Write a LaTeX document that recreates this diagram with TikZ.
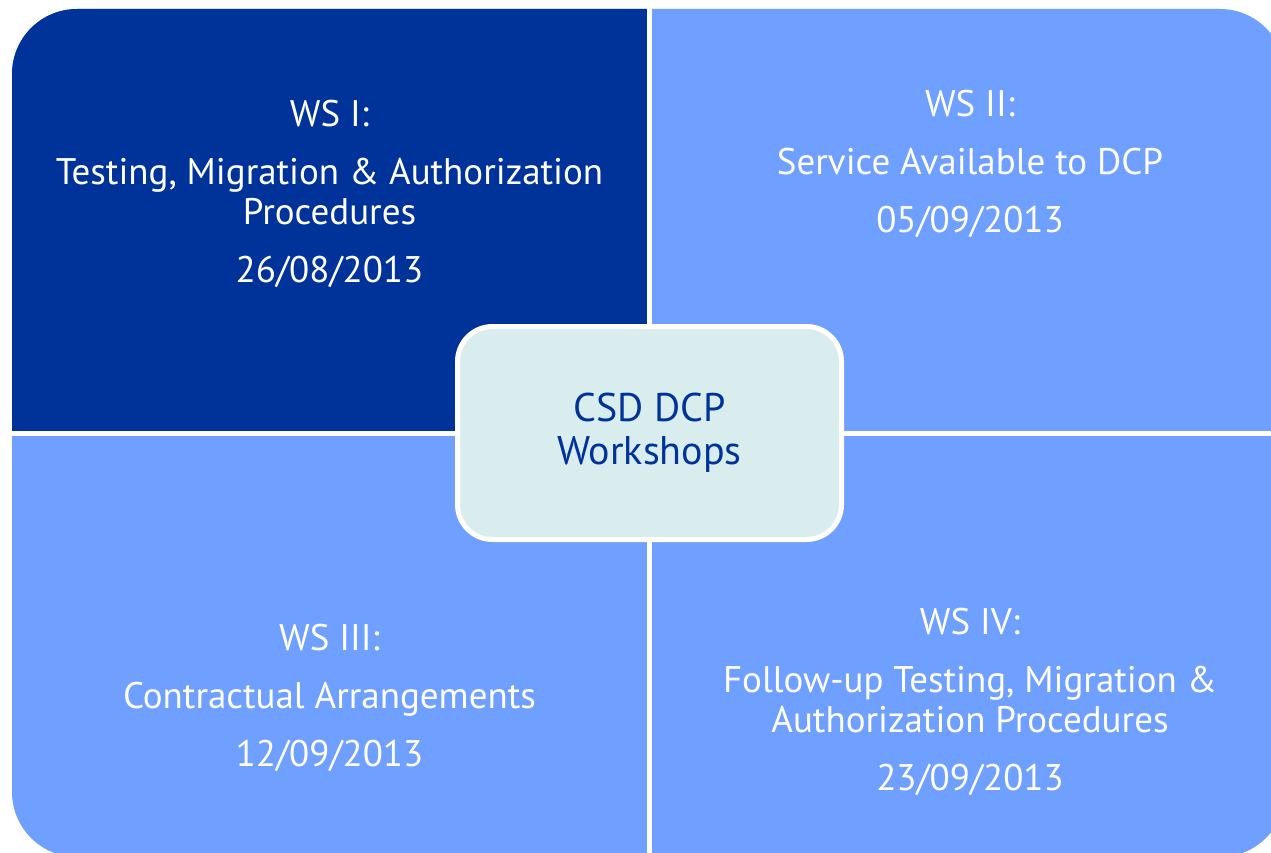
\documentclass[tikz,border=0pt]{standalone}
\usepackage{fontspec}
\setmainfont{PT Sans}
\usepackage[rgb]{xcolor}
\usepackage{tikz}
\definecolor{ws_dark}{HTML}{003399}
\definecolor{ws_light}{HTML}{6F9FFF}
\definecolor{ws_centre}{HTML}{DAEDEE}

\begin{document}
\begin{tikzpicture}[x=1pt, y=-1pt]
        \useasboundingbox (0,0) rectangle (1271,853);
        \tikzset{
            wstext/.style={white, align=center, font=\fontsize{37}{40}\selectfont},
            hub/.style={draw=white, line width=5pt, fill=ws_centre, rounded corners=35pt,
                minimum width=384pt, minimum height=213pt, text=ws_dark, align=center,
                font=\fontsize{40}{43}\selectfont}
        }

        % quadrants
        \begin{scope}
            \clip (0,0) rectangle (1271,853);
            \fill [ws_light, rounded corners=65pt] (12,9) rectangle (1285,857);
            \clip (0,0) rectangle (649.5,433.5);
            \fill [ws_dark, rounded corners=65pt] (12,9) rectangle (1285,857);
        \end{scope}
        \draw [white, line width=5pt] (649.5,0) -- (649.5,853);
        \draw [white, line width=5pt] (0,433.5) -- (1271,433.5);

        \node (ws1) [wstext] at (329.5,194) {WS I:\\[18pt] Testing, Migration \& Authorization\\ Procedures\\[18pt] 26/08/2013};
        \node (ws2) [wstext] at (970,164) {WS II:\\[18pt] Service Available to DCP\\[18pt] 05/09/2013};
        \node (ws3) [wstext] at (329.5,698) {WS III:\\[18pt] Contractual Arrangements\\[18pt] 12/09/2013};
        \node (ws4) [wstext] at (970,702) {WS IV:\\[18pt] Follow-up Testing, Migration \&\\ Authorization Procedures\\[18pt] 23/09/2013};

        \node (hub) [hub] at (649.5,433) {CSD DCP\\ Workshops};

\end{tikzpicture}
\end{document}
